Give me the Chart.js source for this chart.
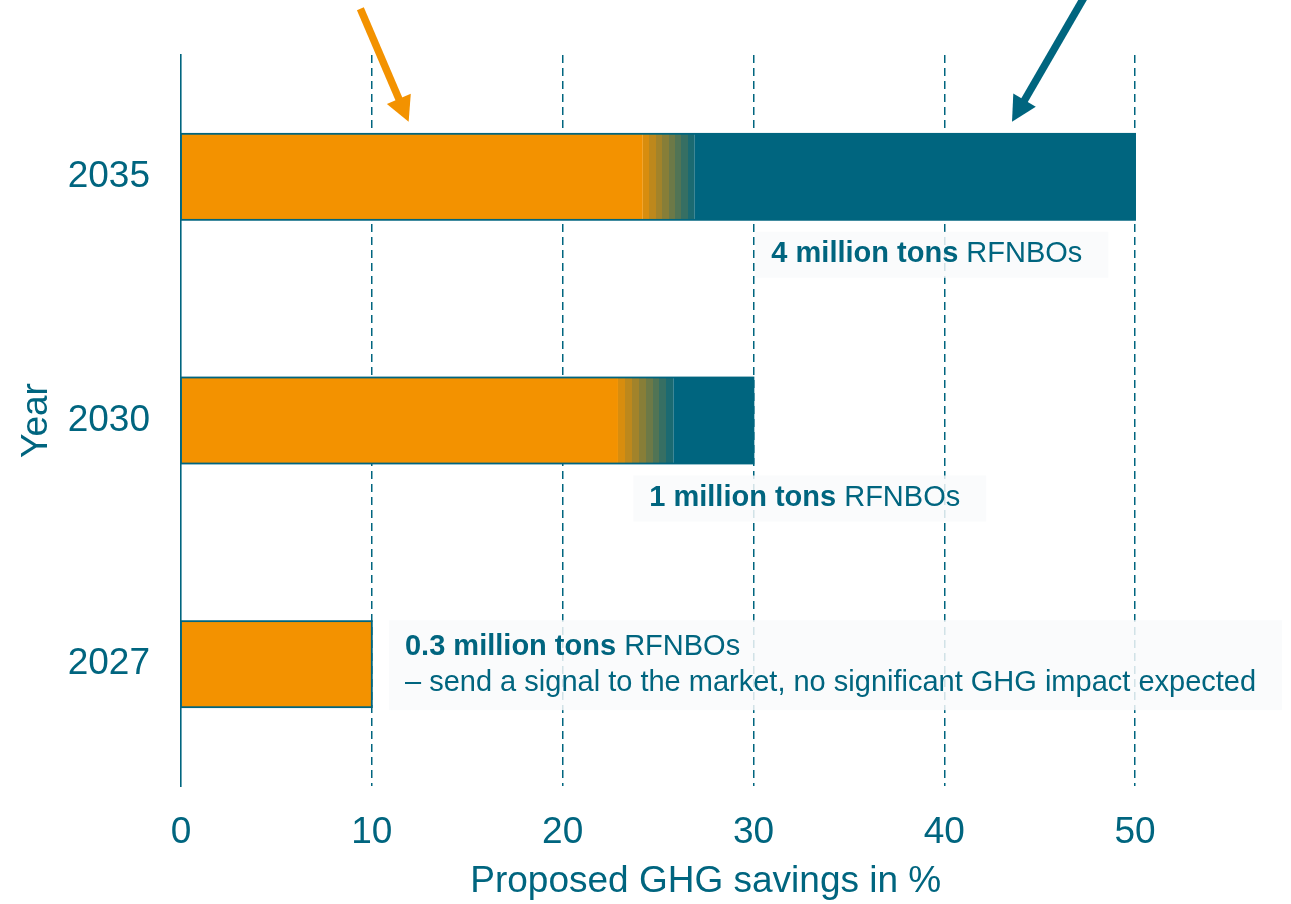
<!DOCTYPE html>
<html>
<head>
<meta charset="utf-8">
<script src="https://cdn.jsdelivr.net/npm/chart.js@4/dist/chart.umd.min.js"></script>
<style>
  html, body { margin: 0; padding: 0; background: #ffffff; }
  canvas { display: block; }
</style>
</head>
<body>
<canvas id="chart" width="1291" height="904"></canvas>
<script>
// Categories and stacked shares (percent GHG savings)
const years = ['2035', '2030', '2027'];
const conventionalShare = [24.2, 22.9, 10];
const transitionShare = [2.7, 2.9, 0];
const rfnboShare = [23.1, 4.2, 0];
const xTickValues = [0, 10, 20, 30, 40, 50];

// Note boxes next to each bar
const noteBold = ['4 million tons', '1 million tons', '0.3 million tons'];
const noteRest = [' RFNBOs', ' RFNBOs', ' RFNBOs'];
const noteSecondLine = ['', '', '\u2013 send a signal to the market, no significant GHG impact expected'];
const noteStart = [30.1, 23.7, 10.9];
const notePlacement = ['below', 'below', 'beside'];

// Pointer arrows in data units: [x value, category position]
const arrowTails = [[9.4, -0.69], [47.5, -0.76]];
const arrowTips = [[11.93, -0.226], [43.55, -0.226]];
const arrowColors = ['#F39200', '#00657F'];

const ORANGE = '#F39200';
const TEAL = '#00657F';
const ORANGE_RGB = [243, 146, 0];
const TEAL_RGB = [0, 101, 127];
const FONT = "'Liberation Sans', Arial, Helvetica, sans-serif";

function mix(a, b, t) {
  const c = a.map((v, k) => Math.round(v + (b[k] - v) * t));
  return `rgb(${c[0]},${c[1]},${c[2]})`;
}

// Stepped fade from orange to teal across the transition segment
function transitionFill(context) {
  const chart = context.chart;
  const i = context.dataIndex;
  const xs = chart.scales && chart.scales.x;
  if (!xs || !chart.chartArea || i === undefined) return ORANGE;
  const a = xs.getPixelForValue(conventionalShare[i]);
  const b = xs.getPixelForValue(conventionalShare[i] + transitionShare[i]);
  if (!(b > a)) return ORANGE;
  const g = chart.ctx.createLinearGradient(a, 0, b, 0);
  const steps = 8;
  for (let k = 0; k < steps; k++) {
    const col = mix(ORANGE_RGB, TEAL_RGB, (k + 1) / (steps + 1));
    g.addColorStop(k / steps, col);
    g.addColorStop((k + 1) / steps, col);
  }
  return g;
}

const barOutline = {
  id: 'barOutline',
  afterDatasetsDraw(chart) {
    const { ctx } = chart;
    const xs = chart.scales.x;
    const meta = chart.getDatasetMeta(0);
    years.forEach((_, i) => {
      const el = meta.data[i];
      if (!el) return;
      const total = conventionalShare[i] + transitionShare[i] + rfnboShare[i];
      const x0 = xs.getPixelForValue(0);
      const x1 = xs.getPixelForValue(total);
      const h = el.height;
      ctx.save();
      ctx.strokeStyle = TEAL;
      ctx.lineWidth = 1.8;
      ctx.strokeRect(x0, el.y - h / 2, x1 - x0, h);
      ctx.restore();
    });
  }
};

const noteBoxes = {
  id: 'noteBoxes',
  afterDatasetsDraw(chart) {
    const { ctx } = chart;
    const xs = chart.scales.x;
    const meta = chart.getDatasetMeta(0);
    const size = 29;
    const boldFont = `bold ${size}px ${FONT}`;
    const normFont = `${size}px ${FONT}`;
    years.forEach((_, i) => {
      const el = meta.data[i];
      if (!el) return;
      ctx.save();
      ctx.font = boldFont;
      const wBold = ctx.measureText(noteBold[i]).width;
      ctx.font = normFont;
      const wRest = ctx.measureText(noteRest[i]).width;
      const wSecond = noteSecondLine[i] ? ctx.measureText(noteSecondLine[i]).width : 0;
      const textW = Math.max(wBold + wRest, wSecond);
      const left = xs.getPixelForValue(noteStart[i]);
      const padL = 16, padR = 26;
      const lines = noteSecondLine[i] ? 2 : 1;
      const boxH = lines === 2 ? 90 : 46;
      let top;
      if (notePlacement[i] === 'below') {
        top = el.y + el.height / 2 + 12;
      } else {
        top = el.y - boxH / 2 + 1;
      }
      ctx.fillStyle = 'rgba(249,250,251,0.84)';
      ctx.fillRect(left, top, padL + textW + padR, boxH);

      ctx.fillStyle = TEAL;
      ctx.textBaseline = 'middle';
      ctx.textAlign = 'left';
      const tx = left + padL;
      const line1Y = lines === 2 ? top + 27 : top + boxH / 2 - 1;
      ctx.font = boldFont;
      ctx.fillText(noteBold[i], tx, line1Y);
      ctx.font = normFont;
      ctx.fillText(noteRest[i], tx + wBold, line1Y);
      if (lines === 2) {
        ctx.fillText(noteSecondLine[i], tx, line1Y + 36);
      }
      ctx.restore();
    });
  }
};

const pointerArrows = {
  id: 'pointerArrows',
  afterDraw(chart) {
    const { ctx } = chart;
    const xs = chart.scales.x, ys = chart.scales.y;
    arrowTails.forEach((tail, k) => {
      const tip = arrowTips[k];
      const x0 = xs.getPixelForValue(tail[0]), y0 = ys.getPixelForValue(tail[1]);
      const x1 = xs.getPixelForValue(tip[0]), y1 = ys.getPixelForValue(tip[1]);
      const ang = Math.atan2(y1 - y0, x1 - x0);
      const headLen = 25, headHalf = 13;
      const bx = x1 - headLen * Math.cos(ang), by = y1 - headLen * Math.sin(ang);
      ctx.save();
      ctx.strokeStyle = arrowColors[k];
      ctx.fillStyle = arrowColors[k];
      ctx.lineWidth = 7.5;
      ctx.lineCap = 'butt';
      ctx.beginPath();
      ctx.moveTo(x0, y0);
      ctx.lineTo(bx + 2 * Math.cos(ang), by + 2 * Math.sin(ang));
      ctx.stroke();
      ctx.beginPath();
      ctx.moveTo(x1, y1);
      ctx.lineTo(bx + headHalf * Math.sin(ang), by - headHalf * Math.cos(ang));
      ctx.lineTo(bx - headHalf * Math.sin(ang), by + headHalf * Math.cos(ang));
      ctx.closePath();
      ctx.fill();
      ctx.restore();
    });
  }
};

const barCommon = {
  borderWidth: 0,
  barPercentage: 0.353,
  categoryPercentage: 1.0
};

new Chart(document.getElementById('chart'), {
  type: 'bar',
  data: {
    labels: years,
    datasets: [
      Object.assign({ label: 'Conventional', data: conventionalShare, backgroundColor: ORANGE }, barCommon),
      Object.assign({ label: 'Transition', data: transitionShare, backgroundColor: transitionFill }, barCommon),
      Object.assign({ label: 'RFNBO', data: rfnboShare, backgroundColor: TEAL }, barCommon)
    ]
  },
  options: {
    indexAxis: 'y',
    responsive: false,
    animation: false,
    devicePixelRatio: 1,
    layout: { padding: { top: 55, right: 60.5, bottom: 0, left: 0 } },
    plugins: {
      legend: { display: false },
      tooltip: { enabled: false }
    },
    scales: {
      x: {
        type: 'linear',
        stacked: true,
        min: 0,
        max: 55,
        afterBuildTicks(scale) {
          scale.ticks = xTickValues.map(v => ({ value: v }));
        },
        afterFit(scale) { scale.height = 118; },
        ticks: {
          color: TEAL,
          padding: 25,
          font: { family: FONT, size: 37 },
          maxRotation: 0,
          callback: v => String(v)
        },
        grid: {
          drawTicks: false,
          lineWidth: 1.5,
          color: c => (c.tick && c.tick.value === 0 ? 'rgba(0,0,0,0)' : TEAL)
        },
        border: { display: false, dash: [8, 5] },
        title: {
          display: true,
          text: 'Proposed GHG savings in %',
          color: TEAL,
          font: { family: FONT, size: 37 },
          padding: { top: 0, bottom: 0 }
        }
      },
      y: {
        stacked: true,
        afterFit(scale) { scale.width = 181; },
        ticks: {
          color: TEAL,
          padding: 31,
          font: { family: FONT, size: 37 }
        },
        grid: { display: false, drawTicks: false },
        border: { display: true, color: TEAL, width: 1.6 },
        title: {
          display: true,
          text: 'Year',
          color: TEAL,
          font: { family: FONT, size: 37 },
          padding: { top: 15, bottom: 0 }
        }
      }
    }
  },
  plugins: [barOutline, noteBoxes, pointerArrows]
});
</script>
</body>
</html>
